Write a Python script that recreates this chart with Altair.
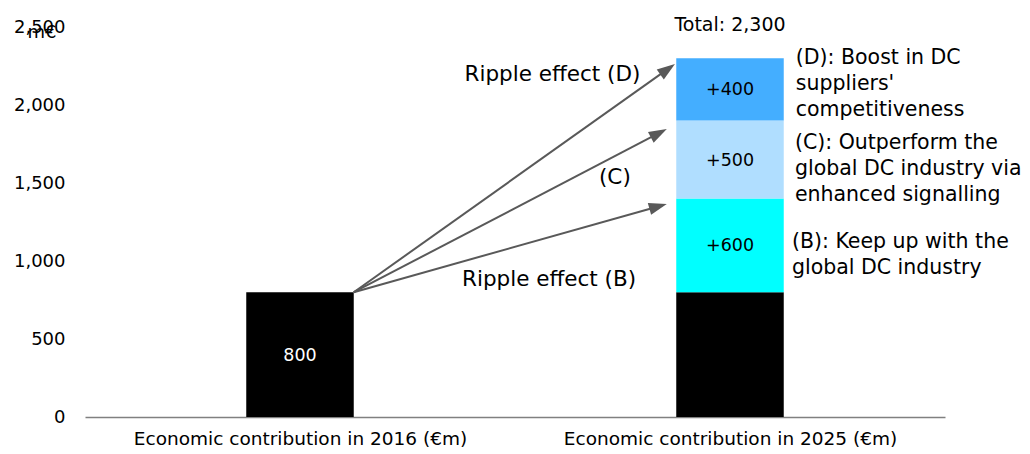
import altair as alt
import pandas as pd
import math

FONT = "DejaVu Sans"

categories = ["Economic contribution in 2016 (€m)", "Economic contribution in 2025 (€m)"]
cat_pos = [0.5, 1.5]
bar_half = 0.125

seg_cat = [0, 1, 1, 1, 1]
seg_value = [800, 800, 600, 500, 400]
seg_label = ["800", "", "+600", "+500", "+400"]
seg_color = ["#000000", "#000000", "#00FFFF", "#B0DEFF", "#44AEFF"]
seg_label_color = ["white", "black", "black", "black", "black"]

arrow_end_x = [1.353, 1.353, 1.372]
arrow_end_y = [1365, 1846, 2263]

ann_text = ["Ripple effect (D)", "(C)", "Ripple effect (B)"]
ann_x = [0.8826, 1.1953, 0.8767]
ann_y = [2192, 1532, 878]

side_text = ["(D): Boost in DC\nsuppliers'\ncompetitiveness",
             "(C): Outperform the\nglobal DC industry via\nenhanced signalling",
             "(B): Keep up with the\nglobal DC industry"]
side_x = [1.653, 1.651, 1.644]
side_y = [2301, 1756, 1122]

total_label = "Total: 2,300"
y_ticks = [0, 500, 1000, 1500, 2000, 2500]

W, H = 860, 390
YMAX = 2500

rows = []
cum = {0: 0, 1: 0}
for c, v, l, col, lc in zip(seg_cat, seg_value, seg_label, seg_color, seg_label_color):
    y0 = cum[c]
    y1 = y0 + v
    cum[c] = y1
    rows.append(dict(x=cat_pos[c] - bar_half, x2=cat_pos[c] + bar_half, xc=cat_pos[c],
                     y=y0, y2=y1, ym=(y0 + y1) / 2, label=l, color=col, lc=lc))
seg = pd.DataFrame(rows)

HEAD_LEN = 18.0
start_x = cat_pos[0] + bar_half
start_y = seg_value[0]
arr_rows = []
for i, (ex, ey) in enumerate(zip(arrow_end_x, arrow_end_y)):
    dx = (ex - start_x) * W / 2.0
    dy = (ey - start_y) * H / YMAX
    ang = math.degrees(math.atan2(dx, dy))
    L = math.hypot(dx, dy)
    back = HEAD_LEN / 2.0  # triangle centre sits half a head behind the tip
    hx = ex - (dx / L) * back * 2.0 / W
    hy = ey - (dy / L) * back * YMAX / H
    arr_rows.append(dict(x=start_x, y=start_y, hx=hx, hy=hy, angle=ang))
arr = pd.DataFrame(arr_rows)

xs = alt.Scale(domain=[0, 2], nice=False, zero=False)
ys = alt.Scale(domain=[0, YMAX], nice=False)

label_expr = "datum.value < 1 ? '%s' : '%s'" % (categories[0], categories[1])
x_axis = alt.Axis(values=cat_pos, labelExpr=label_expr, title=None, ticks=False, grid=False,
                  domainColor="#808080", domainWidth=1.5, labelFont=FONT, labelFontSize=18.5,
                  labelColor="black", labelPadding=12, labelLimit=600)
y_axis = alt.Axis(values=y_ticks, labelExpr="format(datum.value, ',')", ticks=False,
                  domain=False, grid=False,
                  labelFont=FONT, labelFontSize=18, labelColor="black", labelPadding=20,
                  title="m€", titleAngle=0, titleFont=FONT, titleFontSize=18,
                  titleFontWeight="normal", titleAlign="left", titleBaseline="middle",
                  titleX=-58, titleY=5, titleColor="black")


def X(f):
    return alt.X(f, type="quantitative", scale=xs, axis=x_axis)


def Y(f):
    return alt.Y(f, type="quantitative", scale=ys, axis=y_axis)


bars = alt.Chart(seg).mark_bar().encode(
    x=X("x"), x2="x2:Q", y=Y("y"), y2="y2:Q",
    color=alt.Color("color:N", scale=None),
)

bar_text = alt.Chart(seg).mark_text(font=FONT, fontSize=17.5, baseline="middle", dy=1).encode(
    x=X("xc"), y=Y("ym"), text="label:N", color=alt.Color("lc:N", scale=None)
)

lines = alt.Chart(arr).mark_rule(color="#595959", strokeWidth=2).encode(
    x=X("x"), y=Y("y"), x2="hx:Q", y2="hy:Q"
)
heads = alt.Chart(arr).mark_point(shape="M0,-1L0.68,1L-0.68,1Z", filled=True, color="#595959",
                                  opacity=1, size=HEAD_LEN * HEAD_LEN).encode(
    x=X("hx"), y=Y("hy"), angle=alt.Angle("angle:Q", scale=None)
)

ann = alt.Chart(pd.DataFrame(dict(t=ann_text, x=ann_x, y=ann_y))).mark_text(
    font=FONT, fontSize=21.5, align="left", baseline="middle", color="black"
).encode(x=X("x"), y=Y("y"), text="t:N")

side = alt.Chart(pd.DataFrame(dict(t=side_text, x=side_x, y=side_y))).mark_text(
    font=FONT, fontSize=20.5, align="left", baseline="middle", color="black",
    lineBreak="\n", lineHeight=26
).encode(x=X("x"), y=Y("y"), text="t:N")

total = alt.Chart(pd.DataFrame(dict(t=[total_label], x=[cat_pos[1]], y=[sum(seg_value[1:])]))).mark_text(
    font=FONT, fontSize=19, align="center", baseline="middle", dy=-33, color="black"
).encode(x=X("x"), y=Y("y"), text="t:N")

chart = alt.layer(bars, bar_text, lines, heads, ann, side, total).properties(
    width=W, height=H,
    background="white",
    autosize=alt.AutoSizeParams(type="none"),
    padding={"left": 77, "top": 19, "right": 77, "bottom": 30},
).configure_view(strokeWidth=0)

chart.save("out.html", embed_options={"renderer": "svg", "actions": False})
